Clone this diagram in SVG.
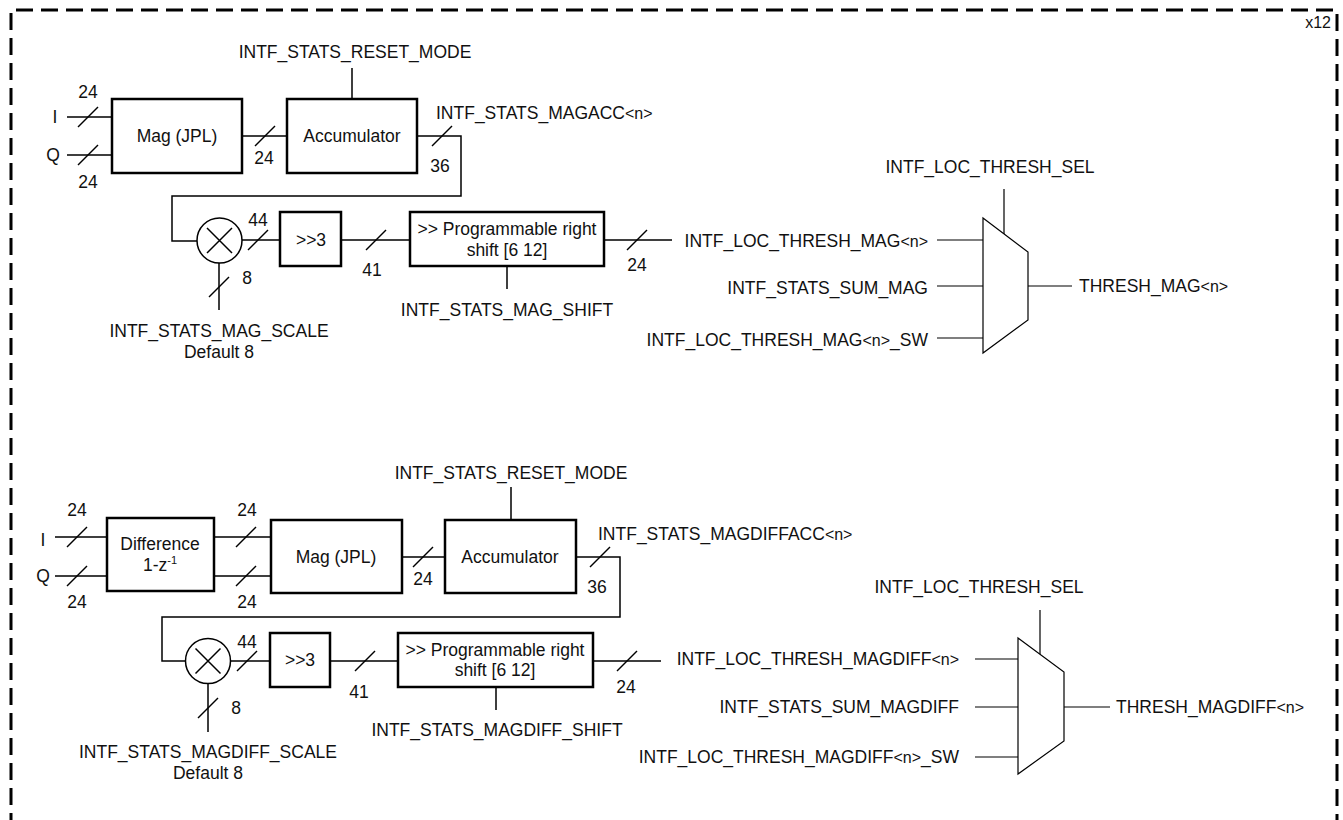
<svg xmlns="http://www.w3.org/2000/svg" width="1343" height="820" viewBox="0 0 1343 820">
<style>
text{font-family:"Liberation Sans",Arial,Helvetica,sans-serif;font-size:17.5px;fill:#111}
.box{fill:#fff;stroke:#000;stroke-width:2.5}
.w{fill:none;stroke:#000;stroke-width:1.5}
.mux{fill:#fff;stroke:#000;stroke-width:1.2}
.mw{fill:none;stroke:#000;stroke-width:1.2}
.m{text-anchor:middle}
.e{text-anchor:end}
.n{font-size:16px}
.sup{font-size:11px}
.border{fill:none;stroke:#000;stroke-width:3;stroke-dasharray:17 8}
</style>
<defs>
<path id="sl" d="M-10,10 L10,-10" fill="none" stroke="#000" stroke-width="1.5"/>
</defs>
<g id="frame">
<path class="border" d="M11,830 V10 H1337 V830"/>
<text class="e" x="1331" y="28" style="font-size:16px">x12</text>
</g>
<g id="connectors">
<path class="w" d="M67,117 H112 M67,155 H112 M242,136 H287 M352,68 V99 M417,136 H461 V196 H172 V241 H197 M242,240 H280 M341,240 H410 M604,240 H672 M507,266 V289 M219,263 V310"/>
<path class="mw" d="M937,240 H983 M937,286 H983 M937,338 H983 M1004,189 V234 M1028,286 H1072"/>
<path class="w" d="M55,537 H107 M55,576 H107 M214,537 H271 M214,576 H271 M402,557 H445 M511,487 V520 M576,557 H620 V617 H162 V661 H186 M230,661 H270 M330,661 H398 M593,661 H661 M496,687 V710 M208,684 V732"/>
<path class="mw" d="M975,659 H1018 M975,707 H1018 M975,757 H1018 M1040,610 V654 M1064,707 H1110"/>
<use href="#sl" x="88" y="117"/><use href="#sl" x="88" y="155"/><use href="#sl" x="265" y="136"/><use href="#sl" x="442" y="136"/><use href="#sl" x="258" y="240"/><use href="#sl" x="376" y="240"/><use href="#sl" x="637" y="240"/><use href="#sl" x="219" y="287"/>
<use href="#sl" x="77" y="537"/><use href="#sl" x="77" y="576"/><use href="#sl" x="246" y="537"/><use href="#sl" x="246" y="576"/><use href="#sl" x="423" y="557"/><use href="#sl" x="600" y="557"/><use href="#sl" x="247" y="661"/><use href="#sl" x="365" y="661"/><use href="#sl" x="627" y="661"/><use href="#sl" x="208" y="708"/>
</g>
<g id="labels-top">
<text class="m" x="88" y="98">24</text>
<text class="m" x="55" y="123">I</text>
<text class="m" x="53" y="161">Q</text>
<text class="m" x="88" y="188">24</text>
<text class="m" x="264" y="164">24</text>
<text class="m" x="440" y="172">36</text>
<text x="436" y="119">INTF_STATS_MAGACC<tspan class="n">&lt;n&gt;</tspan></text>
<text class="m" x="355" y="58">INTF_STATS_RESET_MODE</text>
<text class="m" x="258" y="226">44</text>
<text class="m" x="372" y="276">41</text>
<text class="m" x="247" y="284">8</text>
<text class="m" x="637" y="271">24</text>
<text class="m" x="507" y="316">INTF_STATS_MAG_SHIFT</text>
<text class="m" x="219" y="337">INTF_STATS_MAG_SCALE</text>
<text class="m" x="219" y="358">Default 8</text>
<text class="e" x="928" y="247">INTF_LOC_THRESH_MAG<tspan class="n">&lt;n&gt;</tspan></text>
<text class="e" x="928" y="294">INTF_STATS_SUM_MAG</text>
<text class="e" x="928" y="346">INTF_LOC_THRESH_MAG<tspan class="n">&lt;n&gt;</tspan>_SW</text>
<text class="m" x="990" y="173">INTF_LOC_THRESH_SEL</text>
<text x="1079" y="292">THRESH_MAG<tspan class="n">&lt;n&gt;</tspan></text>
</g>
<g id="mag-top"><rect class="box" x="112" y="99" width="130" height="74"/><text class="m" x="177" y="142">Mag (JPL)</text></g>
<g id="acc-top"><rect class="box" x="287" y="99" width="130" height="74"/><text class="m" x="352" y="142">Accumulator</text></g>
<g id="mult-top"><circle class="w" cx="219.5" cy="240.5" r="22.5" fill="#fff"/><path class="w" d="M207,228 L232,253 M232,228 L207,253"/></g>
<g id="shift3-top"><rect class="box" x="280" y="212" width="61" height="54"/><text class="m" x="311" y="246">&gt;&gt;3</text></g>
<g id="prog-top"><rect class="box" x="410" y="212" width="194" height="54"/><text class="m" x="507" y="235">&gt;&gt; Programmable right</text><text class="m" x="507" y="256">shift [6 12]</text></g>
<g id="mux-top"><polygon class="mux" points="983,218 1028,252 1028,320 983,353"/></g>
<g id="labels-bottom">
<text class="m" x="77" y="516">24</text>
<text class="m" x="43" y="546">I</text>
<text class="m" x="43" y="582">Q</text>
<text class="m" x="77" y="608">24</text>
<text class="m" x="247" y="516">24</text>
<text class="m" x="247" y="608">24</text>
<text class="m" x="423" y="585">24</text>
<text class="m" x="597" y="593">36</text>
<text x="598" y="540">INTF_STATS_MAGDIFFACC<tspan class="n">&lt;n&gt;</tspan></text>
<text class="m" x="511" y="479">INTF_STATS_RESET_MODE</text>
<text class="m" x="247" y="648">44</text>
<text class="m" x="359" y="698">41</text>
<text class="m" x="236" y="714">8</text>
<text class="m" x="626" y="693">24</text>
<text class="m" x="497" y="736">INTF_STATS_MAGDIFF_SHIFT</text>
<text class="m" x="208" y="758">INTF_STATS_MAGDIFF_SCALE</text>
<text class="m" x="208" y="779">Default 8</text>
<text class="e" x="959" y="665">INTF_LOC_THRESH_MAGDIFF<tspan class="n">&lt;n&gt;</tspan></text>
<text class="e" x="959" y="713">INTF_STATS_SUM_MAGDIFF</text>
<text class="e" x="959" y="763">INTF_LOC_THRESH_MAGDIFF<tspan class="n">&lt;n&gt;</tspan>_SW</text>
<text class="m" x="979" y="593">INTF_LOC_THRESH_SEL</text>
<text x="1116" y="713">THRESH_MAGDIFF<tspan class="n">&lt;n&gt;</tspan></text>
</g>
<g id="diff-bottom"><rect class="box" x="107" y="518" width="107" height="73"/><text class="m" x="160" y="550">Difference</text><text class="m" x="160" y="571">1-z<tspan class="sup" dy="-7">-1</tspan></text></g>
<g id="mag-bottom"><rect class="box" x="271" y="520" width="131" height="73"/><text class="m" x="336" y="563">Mag (JPL)</text></g>
<g id="acc-bottom"><rect class="box" x="445" y="520" width="131" height="73"/><text class="m" x="510" y="563">Accumulator</text></g>
<g id="mult-bottom"><circle class="w" cx="208" cy="661" r="22.5" fill="#fff"/><path class="w" d="M195.5,648.5 L220.5,673.5 M220.5,648.5 L195.5,673.5"/></g>
<g id="shift3-bottom"><rect class="box" x="270" y="633" width="60" height="54"/><text class="m" x="300" y="666">&gt;&gt;3</text></g>
<g id="prog-bottom"><rect class="box" x="398" y="633" width="195" height="54"/><text class="m" x="495" y="656">&gt;&gt; Programmable right</text><text class="m" x="495" y="676">shift [6 12]</text></g>
<g id="mux-bottom"><polygon class="mux" points="1018,638 1064,672 1064,741 1018,774"/></g>
</svg>
